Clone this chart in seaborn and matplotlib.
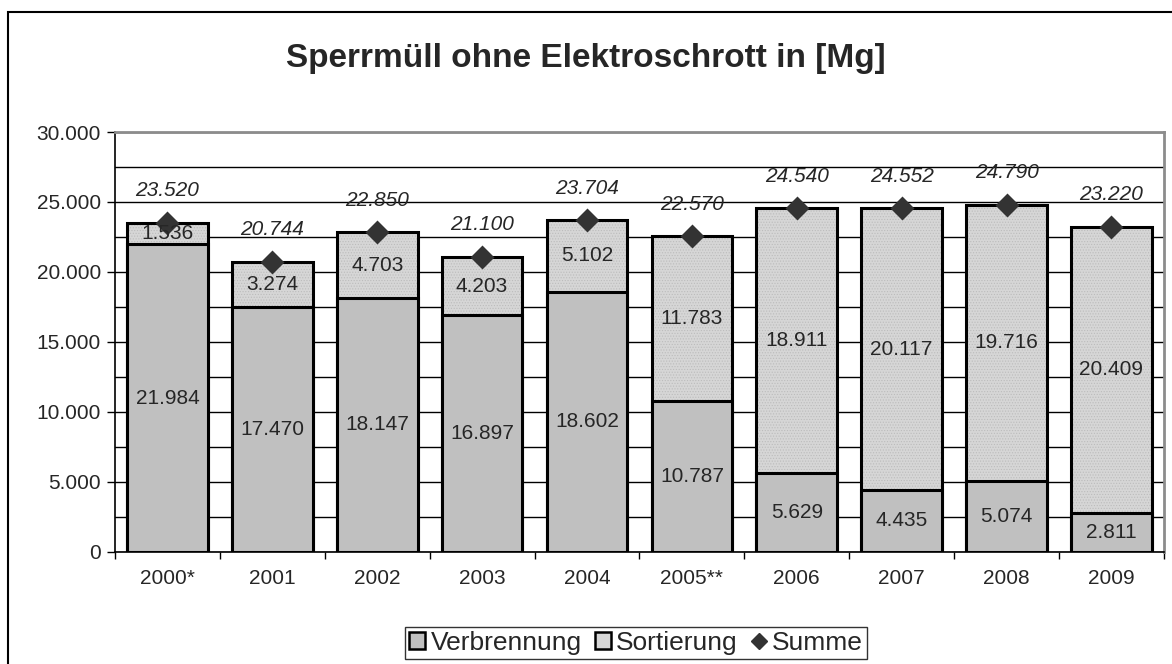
import matplotlib
matplotlib.use("Agg")
import matplotlib.pyplot as plt
import seaborn as sns
import pandas as pd
from matplotlib.patches import Patch, Rectangle
from matplotlib.lines import Line2D
from matplotlib.ticker import FuncFormatter, MultipleLocator

# --- data ---
years = ["2000*", "2001", "2002", "2003", "2004", "2005**", "2006", "2007", "2008", "2009"]
verbrennung = [21984, 17470, 18147, 16897, 18602, 10787, 5629, 4435, 5074, 2811]
sortierung = [1536, 3274, 4703, 4203, 5102, 11783, 18911, 20117, 19716, 20409]
summe = [23520, 20744, 22850, 21100, 23704, 22570, 24540, 24552, 24790, 23220]

df = pd.DataFrame({"Jahr": years, "Verbrennung": verbrennung,
                   "Sortierung": sortierung, "Summe": summe})
df["Gesamt"] = df["Verbrennung"] + df["Sortierung"]

sns.set_style("white")
plt.rcParams["font.family"] = ["Liberation Sans", "DejaVu Sans"]
plt.rcParams["hatch.linewidth"] = 0.5


def de_fmt(v):
    return f"{int(round(v)):,}".replace(",", ".")


fig = plt.figure(figsize=(11.72, 6.64), dpi=100)
ax = fig.add_axes([0.0981, 0.1687, 0.895, 0.6325])

col_v = "#c0c0c0"
col_s = "#d6d6d6"
bw = 0.77

# Sortierung (stacked on top): total height with fine dot texture, then outline
sns.barplot(data=df, x="Jahr", y="Gesamt", color=col_s, width=bw, saturation=1,
            edgecolor="#bcbcbc", linewidth=0, hatch="......", ax=ax, zorder=2)
sns.barplot(data=df, x="Jahr", y="Gesamt", color="black", width=bw, fill=False,
            linewidth=2.2, ax=ax, zorder=3)
# Verbrennung at the bottom
sns.barplot(data=df, x="Jahr", y="Verbrennung", color=col_v, width=bw, saturation=1,
            edgecolor="black", linewidth=2.2, ax=ax, zorder=4)

# Summe markers
sns.pointplot(data=df, x="Jahr", y="Summe", color="#333333", marker="D",
              markersize=10, linestyle="none", errorbar=None, ax=ax, zorder=6)

# segment labels
for i in range(len(years)):
    v = verbrennung[i]
    s = sortierung[i]
    ax.text(i, v / 2, de_fmt(v), ha="center", va="center", fontsize=15, zorder=7)
    ax.text(i, v + s / 2, de_fmt(s), ha="center", va="center", fontsize=15, zorder=7)
    ax.annotate(de_fmt(summe[i]), (i, summe[i]), xytext=(0, 23),
                textcoords="offset points", ha="center", va="center",
                fontsize=15, style="italic", zorder=7)

# axes styling
ax.set_ylim(0, 30000)
ax.set_xlim(-0.5, len(years) - 0.5)
ax.yaxis.set_major_locator(MultipleLocator(5000))
ax.yaxis.set_minor_locator(MultipleLocator(2500))
ax.yaxis.set_major_formatter(FuncFormatter(lambda v, p: de_fmt(v)))
ax.grid(axis="y", which="both", color="black", linewidth=1, zorder=0)
ax.set_axisbelow(True)
ax.tick_params(axis="y", which="major", direction="out", length=6, width=1,
               color="black", labelsize=15, pad=4, left=True)
ax.tick_params(axis="y", which="minor", length=0)
ax.set_xticks(range(len(years)))
ax.set_xticklabels(years)
ax.tick_params(axis="x", which="major", length=0, labelsize=15, pad=12)
ax.set_xticks([k + 0.5 for k in range(-1, len(years))], minor=True)
ax.tick_params(axis="x", which="minor", direction="out", length=5, width=1,
               color="black", bottom=True)
ax.set_xlabel("")
ax.set_ylabel("")

for side in ["left", "bottom"]:
    ax.spines[side].set_color("black")
    ax.spines[side].set_linewidth(1.2)
for side in ["top", "right"]:
    ax.spines[side].set_visible(True)
    ax.spines[side].set_color("#8c8c8c")
    ax.spines[side].set_linewidth(2)

fig.suptitle("Sperrmüll ohne Elektroschrott in [Mg]", x=0.5, y=0.912,
             fontsize=24, fontweight="bold", va="center")

# legend
handles = [
    Patch(facecolor=col_v, edgecolor="black", linewidth=1.8),
    Patch(facecolor=col_s, edgecolor="black", linewidth=1.8),
    Line2D([], [], marker="D", color="#333333", linestyle="none", markersize=8),
]
leg = fig.legend(handles, ["Verbrennung", "Sortierung", "Summe"], loc="center",
                 bbox_to_anchor=(0.5427, 0.0316), ncol=3, fontsize=19,
                 frameon=True, fancybox=False, handlelength=0.6, handleheight=0.6,
                 handletextpad=0.2, columnspacing=0.5, borderpad=0.15,
                 borderaxespad=0)
leg.get_frame().set_edgecolor("black")
leg.get_frame().set_linewidth(1)

# outer chart border
fig.patches.append(Rectangle((8 / 1172, -0.05), 1.1, 1 - 12 / 664 + 0.05,
                             transform=fig.transFigure, fill=False,
                             edgecolor="black", linewidth=1.5))

fig.savefig("out.png", dpi=100)
plt.close(fig)
